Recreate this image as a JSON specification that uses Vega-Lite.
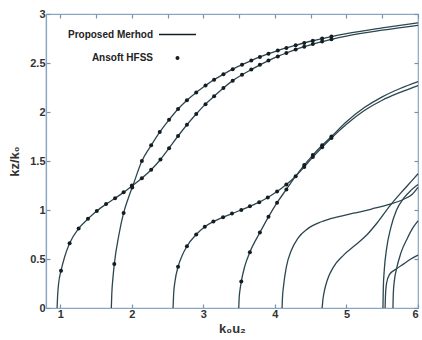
{
  "$schema": "https://vega.github.io/schema/vega-lite/v6.json",
  "width": 372,
  "height": 294,
  "autosize": "none",
  "padding": {"left": 46, "top": 14, "right": 4, "bottom": 32},
  "config": {
    "font": "Liberation Sans",
    "view": {"stroke": "#8aa6c1", "strokeWidth": 1.2},
    "axis": {
      "domainColor": "#8aa6c1",
      "domainWidth": 1.2,
      "tickColor": "#7393b5",
      "tickWidth": 1.2,
      "tickSize": -4,
      "grid": false,
      "labelFont": "Liberation Sans",
      "labelFontWeight": "bold",
      "labelFontSize": 11,
      "labelColor": "#333333",
      "labelPadding": 5,
      "titleFont": "Liberation Sans",
      "titleFontWeight": "bold",
      "titleFontSize": 13,
      "titleColor": "#333333"
    },
    "legend": {
      "labelFont": "Liberation Sans",
      "labelFontWeight": "bold",
      "labelFontSize": 10,
      "labelColor": "#222222"
    }
  },
  "datasets": {
    "model": [
      {"curve": "A", "x": 0.955, "y": 0}, {"curve": "A", "x": 0.962, "y": 0.12}, {"curve": "A", "x": 0.975, "y": 0.24}, {"curve": "A", "x": 1.01, "y": 0.38}, {"curve": "A", "x": 1.06, "y": 0.52}, {"curve": "A", "x": 1.13, "y": 0.66}, {"curve": "A", "x": 1.256, "y": 0.81}, {"curve": "A", "x": 1.387, "y": 0.91}, {"curve": "A", "x": 1.51, "y": 0.99}, {"curve": "A", "x": 1.64, "y": 1.06}, {"curve": "A", "x": 1.765, "y": 1.12}, {"curve": "A", "x": 1.885, "y": 1.18}, {"curve": "A", "x": 2.0, "y": 1.245}, {"curve": "A", "x": 2.14, "y": 1.325}, {"curve": "A", "x": 2.27, "y": 1.41}, {"curve": "A", "x": 2.4, "y": 1.515}, {"curve": "A", "x": 2.52, "y": 1.63}, {"curve": "A", "x": 2.646, "y": 1.755}, {"curve": "A", "x": 2.77, "y": 1.87}, {"curve": "A", "x": 2.9, "y": 1.98}, {"curve": "A", "x": 3.03, "y": 2.08}, {"curve": "A", "x": 3.15, "y": 2.16}, {"curve": "A", "x": 3.28, "y": 2.245}, {"curve": "A", "x": 3.41, "y": 2.32}, {"curve": "A", "x": 3.54, "y": 2.38}, {"curve": "A", "x": 3.67, "y": 2.433}, {"curve": "A", "x": 3.79, "y": 2.481}, {"curve": "A", "x": 3.91, "y": 2.525}, {"curve": "A", "x": 4.04, "y": 2.567}, {"curve": "A", "x": 4.16, "y": 2.602}, {"curve": "A", "x": 4.29, "y": 2.637}, {"curve": "A", "x": 4.41, "y": 2.666}, {"curve": "A", "x": 4.53, "y": 2.693}, {"curve": "A", "x": 4.66, "y": 2.719}, {"curve": "A", "x": 4.79, "y": 2.742}, {"curve": "A", "x": 5.0, "y": 2.775}, {"curve": "A", "x": 5.5, "y": 2.835}, {"curve": "A", "x": 6.0, "y": 2.885},
      {"curve": "B", "x": 1.713, "y": 0}, {"curve": "B", "x": 1.72, "y": 0.15}, {"curve": "B", "x": 1.735, "y": 0.3}, {"curve": "B", "x": 1.755, "y": 0.45}, {"curve": "B", "x": 1.82, "y": 0.75}, {"curve": "B", "x": 1.885, "y": 0.97}, {"curve": "B", "x": 1.95, "y": 1.12}, {"curve": "B", "x": 2.02, "y": 1.26}, {"curve": "B", "x": 2.14, "y": 1.5}, {"curve": "B", "x": 2.27, "y": 1.66}, {"curve": "B", "x": 2.39, "y": 1.795}, {"curve": "B", "x": 2.52, "y": 1.92}, {"curve": "B", "x": 2.646, "y": 2.03}, {"curve": "B", "x": 2.77, "y": 2.12}, {"curve": "B", "x": 2.9, "y": 2.2}, {"curve": "B", "x": 3.03, "y": 2.27}, {"curve": "B", "x": 3.15, "y": 2.33}, {"curve": "B", "x": 3.28, "y": 2.385}, {"curve": "B", "x": 3.41, "y": 2.437}, {"curve": "B", "x": 3.54, "y": 2.483}, {"curve": "B", "x": 3.67, "y": 2.525}, {"curve": "B", "x": 3.79, "y": 2.562}, {"curve": "B", "x": 3.91, "y": 2.595}, {"curve": "B", "x": 4.04, "y": 2.627}, {"curve": "B", "x": 4.16, "y": 2.654}, {"curve": "B", "x": 4.29, "y": 2.681}, {"curve": "B", "x": 4.41, "y": 2.705}, {"curve": "B", "x": 4.53, "y": 2.727}, {"curve": "B", "x": 4.66, "y": 2.749}, {"curve": "B", "x": 4.79, "y": 2.77}, {"curve": "B", "x": 5.0, "y": 2.8}, {"curve": "B", "x": 5.5, "y": 2.858}, {"curve": "B", "x": 6.0, "y": 2.91},
      {"curve": "C", "x": 2.576, "y": 0}, {"curve": "C", "x": 2.585, "y": 0.15}, {"curve": "C", "x": 2.605, "y": 0.28}, {"curve": "C", "x": 2.646, "y": 0.42}, {"curve": "C", "x": 2.7, "y": 0.53}, {"curve": "C", "x": 2.77, "y": 0.63}, {"curve": "C", "x": 2.9, "y": 0.75}, {"curve": "C", "x": 3.02, "y": 0.83}, {"curve": "C", "x": 3.14, "y": 0.883}, {"curve": "C", "x": 3.275, "y": 0.927}, {"curve": "C", "x": 3.4, "y": 0.964}, {"curve": "C", "x": 3.53, "y": 1.0}, {"curve": "C", "x": 3.65, "y": 1.038}, {"curve": "C", "x": 3.78, "y": 1.08}, {"curve": "C", "x": 3.9, "y": 1.128}, {"curve": "C", "x": 4.03, "y": 1.188}, {"curve": "C", "x": 4.16, "y": 1.26}, {"curve": "C", "x": 4.29, "y": 1.345}, {"curve": "C", "x": 4.41, "y": 1.44}, {"curve": "C", "x": 4.53, "y": 1.54}, {"curve": "C", "x": 4.66, "y": 1.64}, {"curve": "C", "x": 4.79, "y": 1.735}, {"curve": "C", "x": 5.0, "y": 1.875}, {"curve": "C", "x": 5.25, "y": 2.015}, {"curve": "C", "x": 5.5, "y": 2.12}, {"curve": "C", "x": 5.75, "y": 2.2}, {"curve": "C", "x": 6.0, "y": 2.27},
      {"curve": "D", "x": 3.494, "y": 0}, {"curve": "D", "x": 3.5, "y": 0.1}, {"curve": "D", "x": 3.515, "y": 0.2}, {"curve": "D", "x": 3.53, "y": 0.27}, {"curve": "D", "x": 3.58, "y": 0.43}, {"curve": "D", "x": 3.65, "y": 0.57}, {"curve": "D", "x": 3.79, "y": 0.77}, {"curve": "D", "x": 3.91, "y": 0.93}, {"curve": "D", "x": 4.03, "y": 1.075}, {"curve": "D", "x": 4.16, "y": 1.21}, {"curve": "D", "x": 4.29, "y": 1.345}, {"curve": "D", "x": 4.41, "y": 1.458}, {"curve": "D", "x": 4.53, "y": 1.56}, {"curve": "D", "x": 4.66, "y": 1.66}, {"curve": "D", "x": 4.79, "y": 1.75}, {"curve": "D", "x": 5.0, "y": 1.9}, {"curve": "D", "x": 5.25, "y": 2.045}, {"curve": "D", "x": 5.5, "y": 2.155}, {"curve": "D", "x": 5.75, "y": 2.24}, {"curve": "D", "x": 6.0, "y": 2.31},
      {"curve": "E", "x": 4.1, "y": 0}, {"curve": "E", "x": 4.105, "y": 0.1}, {"curve": "E", "x": 4.12, "y": 0.22}, {"curve": "E", "x": 4.16, "y": 0.42}, {"curve": "E", "x": 4.23, "y": 0.59}, {"curve": "E", "x": 4.32, "y": 0.71}, {"curve": "E", "x": 4.46, "y": 0.81}, {"curve": "E", "x": 4.65, "y": 0.88}, {"curve": "E", "x": 4.88, "y": 0.93}, {"curve": "E", "x": 5.12, "y": 0.97}, {"curve": "E", "x": 5.35, "y": 1.01}, {"curve": "E", "x": 5.61, "y": 1.06}, {"curve": "E", "x": 5.8, "y": 1.11}, {"curve": "E", "x": 5.92, "y": 1.16}, {"curve": "E", "x": 6.0, "y": 1.23},
      {"curve": "F", "x": 4.66, "y": 0}, {"curve": "F", "x": 4.67, "y": 0.08}, {"curve": "F", "x": 4.69, "y": 0.17}, {"curve": "F", "x": 4.73, "y": 0.28}, {"curve": "F", "x": 4.82, "y": 0.42}, {"curve": "F", "x": 4.96, "y": 0.54}, {"curve": "F", "x": 5.13, "y": 0.645}, {"curve": "F", "x": 5.29, "y": 0.75}, {"curve": "F", "x": 5.43, "y": 0.87}, {"curve": "F", "x": 5.615, "y": 1.05}, {"curve": "F", "x": 5.755, "y": 1.17}, {"curve": "F", "x": 5.94, "y": 1.32}, {"curve": "F", "x": 6.0, "y": 1.37},
      {"curve": "G", "x": 5.51, "y": 0}, {"curve": "G", "x": 5.515, "y": 0.2}, {"curve": "G", "x": 5.53, "y": 0.4}, {"curve": "G", "x": 5.56, "y": 0.6}, {"curve": "G", "x": 5.62, "y": 0.82}, {"curve": "G", "x": 5.7, "y": 1.0}, {"curve": "G", "x": 5.8, "y": 1.12}, {"curve": "G", "x": 5.9, "y": 1.2}, {"curve": "G", "x": 6.0, "y": 1.26},
      {"curve": "H", "x": 5.54, "y": 0}, {"curve": "H", "x": 5.545, "y": 0.12}, {"curve": "H", "x": 5.56, "y": 0.25}, {"curve": "H", "x": 5.6, "y": 0.34}, {"curve": "H", "x": 5.7, "y": 0.4}, {"curve": "H", "x": 5.8, "y": 0.45}, {"curve": "H", "x": 5.9, "y": 0.5}, {"curve": "H", "x": 6.0, "y": 0.54},
      {"curve": "I", "x": 5.65, "y": 0}, {"curve": "I", "x": 5.655, "y": 0.15}, {"curve": "I", "x": 5.67, "y": 0.28}, {"curve": "I", "x": 5.7, "y": 0.4}, {"curve": "I", "x": 5.76, "y": 0.56}, {"curve": "I", "x": 5.85, "y": 0.71}, {"curve": "I", "x": 5.93, "y": 0.82}, {"curve": "I", "x": 6.0, "y": 0.89}
    ],
    "hfss": [
      {"src": "Ansoft HFSS", "x": 1.01, "y": 0.38}, {"src": "Ansoft HFSS", "x": 1.13, "y": 0.66}, {"src": "Ansoft HFSS", "x": 1.256, "y": 0.81}, {"src": "Ansoft HFSS", "x": 1.387, "y": 0.91}, {"src": "Ansoft HFSS", "x": 1.51, "y": 0.99}, {"src": "Ansoft HFSS", "x": 1.64, "y": 1.06}, {"src": "Ansoft HFSS", "x": 1.765, "y": 1.12}, {"src": "Ansoft HFSS", "x": 1.885, "y": 1.18}, {"src": "Ansoft HFSS", "x": 2.0, "y": 1.25}, {"src": "Ansoft HFSS", "x": 2.14, "y": 1.325}, {"src": "Ansoft HFSS", "x": 2.27, "y": 1.41}, {"src": "Ansoft HFSS", "x": 2.4, "y": 1.515}, {"src": "Ansoft HFSS", "x": 2.52, "y": 1.63}, {"src": "Ansoft HFSS", "x": 2.646, "y": 1.755}, {"src": "Ansoft HFSS", "x": 2.77, "y": 1.87}, {"src": "Ansoft HFSS", "x": 2.9, "y": 1.98}, {"src": "Ansoft HFSS", "x": 3.03, "y": 2.08}, {"src": "Ansoft HFSS", "x": 3.15, "y": 2.16}, {"src": "Ansoft HFSS", "x": 3.28, "y": 2.245}, {"src": "Ansoft HFSS", "x": 3.41, "y": 2.32}, {"src": "Ansoft HFSS", "x": 3.54, "y": 2.38}, {"src": "Ansoft HFSS", "x": 3.67, "y": 2.433}, {"src": "Ansoft HFSS", "x": 3.79, "y": 2.481}, {"src": "Ansoft HFSS", "x": 3.91, "y": 2.525}, {"src": "Ansoft HFSS", "x": 4.04, "y": 2.567}, {"src": "Ansoft HFSS", "x": 4.16, "y": 2.602}, {"src": "Ansoft HFSS", "x": 4.29, "y": 2.637}, {"src": "Ansoft HFSS", "x": 4.41, "y": 2.666}, {"src": "Ansoft HFSS", "x": 4.53, "y": 2.693}, {"src": "Ansoft HFSS", "x": 4.66, "y": 2.719}, {"src": "Ansoft HFSS", "x": 4.79, "y": 2.742},
      {"src": "Ansoft HFSS", "x": 1.755, "y": 0.45}, {"src": "Ansoft HFSS", "x": 1.885, "y": 0.97}, {"src": "Ansoft HFSS", "x": 2.005, "y": 1.23}, {"src": "Ansoft HFSS", "x": 2.14, "y": 1.5}, {"src": "Ansoft HFSS", "x": 2.27, "y": 1.66}, {"src": "Ansoft HFSS", "x": 2.39, "y": 1.795}, {"src": "Ansoft HFSS", "x": 2.52, "y": 1.92}, {"src": "Ansoft HFSS", "x": 2.646, "y": 2.03}, {"src": "Ansoft HFSS", "x": 2.77, "y": 2.12}, {"src": "Ansoft HFSS", "x": 2.9, "y": 2.2}, {"src": "Ansoft HFSS", "x": 3.03, "y": 2.27}, {"src": "Ansoft HFSS", "x": 3.15, "y": 2.33}, {"src": "Ansoft HFSS", "x": 3.28, "y": 2.385}, {"src": "Ansoft HFSS", "x": 3.41, "y": 2.437}, {"src": "Ansoft HFSS", "x": 3.54, "y": 2.483}, {"src": "Ansoft HFSS", "x": 3.67, "y": 2.525}, {"src": "Ansoft HFSS", "x": 3.79, "y": 2.562}, {"src": "Ansoft HFSS", "x": 3.91, "y": 2.595}, {"src": "Ansoft HFSS", "x": 4.04, "y": 2.627}, {"src": "Ansoft HFSS", "x": 4.16, "y": 2.654}, {"src": "Ansoft HFSS", "x": 4.29, "y": 2.681}, {"src": "Ansoft HFSS", "x": 4.41, "y": 2.705}, {"src": "Ansoft HFSS", "x": 4.53, "y": 2.727}, {"src": "Ansoft HFSS", "x": 4.66, "y": 2.749}, {"src": "Ansoft HFSS", "x": 4.79, "y": 2.77},
      {"src": "Ansoft HFSS", "x": 2.646, "y": 0.42}, {"src": "Ansoft HFSS", "x": 2.77, "y": 0.63}, {"src": "Ansoft HFSS", "x": 2.9, "y": 0.75}, {"src": "Ansoft HFSS", "x": 3.02, "y": 0.83}, {"src": "Ansoft HFSS", "x": 3.14, "y": 0.883}, {"src": "Ansoft HFSS", "x": 3.275, "y": 0.927}, {"src": "Ansoft HFSS", "x": 3.4, "y": 0.964}, {"src": "Ansoft HFSS", "x": 3.53, "y": 1.0}, {"src": "Ansoft HFSS", "x": 3.65, "y": 1.038}, {"src": "Ansoft HFSS", "x": 3.78, "y": 1.08}, {"src": "Ansoft HFSS", "x": 3.9, "y": 1.128}, {"src": "Ansoft HFSS", "x": 4.03, "y": 1.188}, {"src": "Ansoft HFSS", "x": 4.16, "y": 1.26}, {"src": "Ansoft HFSS", "x": 4.29, "y": 1.345}, {"src": "Ansoft HFSS", "x": 4.41, "y": 1.44}, {"src": "Ansoft HFSS", "x": 4.53, "y": 1.54}, {"src": "Ansoft HFSS", "x": 4.66, "y": 1.64}, {"src": "Ansoft HFSS", "x": 4.79, "y": 1.735},
      {"src": "Ansoft HFSS", "x": 3.53, "y": 0.27}, {"src": "Ansoft HFSS", "x": 3.65, "y": 0.57}, {"src": "Ansoft HFSS", "x": 3.79, "y": 0.77}, {"src": "Ansoft HFSS", "x": 3.91, "y": 0.93}, {"src": "Ansoft HFSS", "x": 4.03, "y": 1.075}, {"src": "Ansoft HFSS", "x": 4.16, "y": 1.21}, {"src": "Ansoft HFSS", "x": 4.41, "y": 1.458}, {"src": "Ansoft HFSS", "x": 4.53, "y": 1.56}, {"src": "Ansoft HFSS", "x": 4.66, "y": 1.66}, {"src": "Ansoft HFSS", "x": 4.79, "y": 1.75}
    ]
  },
  "resolve": {"scale": {"x": "independent", "y": "independent"}, "axis": {"x": "independent", "y": "independent"}},
  "layer": [
    {
      "layer": [
        {
          "data": {"name": "model"},
          "mark": {"type": "line", "color": "#2b4650", "strokeWidth": 1.3, "interpolate": "monotone"},
          "encoding": {
            "x": {"field": "x", "type": "quantitative", "scale": {"domain": [0.8, 6], "nice": false, "zero": false},
                  "axis": {"values": [1, 1.5, 2, 2.5, 3, 3.5, 4, 4.5, 5, 5.5, 6], "format": "~g", "title": "k₀u₂", "titlePadding": 3, "labelPadding": 4}},
            "y": {"field": "y", "type": "quantitative", "scale": {"domain": [0, 3], "nice": false, "zero": false},
                  "axis": {"values": [0, 0.5, 1, 1.5, 2, 2.5, 3], "format": "~g", "title": "kz/k₀", "titlePadding": 8, "labelPadding": 5}},
            "detail": {"field": "curve", "type": "nominal"}
          }
        },
        {
          "data": {"name": "hfss"},
          "mark": {"type": "point", "filled": true, "color": "#151d20", "opacity": 1},
          "encoding": {
            "x": {"field": "x", "type": "quantitative"},
            "y": {"field": "y", "type": "quantitative"},
            "shape": {"field": "src", "type": "nominal",
                      "scale": {"domain": ["Proposed Merhod", "Ansoft HFSS"], "range": ["M-1,-0.045H1V0.045H-1Z", "circle"]},
                      "legend": {"title": null, "orient": "none", "legendX": 112, "legendY": 1,
                                 "labelAlign": "right", "labelOffset": -44, "rowPadding": 13}},
            "size": {"field": "src", "type": "nominal",
                     "scale": {"type": "ordinal", "domain": ["Proposed Merhod", "Ansoft HFSS"], "range": [1369, 16]},
                     "legend": {"title": null, "orient": "none", "legendX": 112, "legendY": 1,
                                "labelAlign": "right", "labelOffset": -44, "rowPadding": 13}}
          }
        }
      ]
    },
    {
      "data": {"name": "hfss"},
      "mark": {"type": "point", "opacity": 0},
      "encoding": {
        "x": {"field": "x", "type": "quantitative", "scale": {"domain": [0.8, 6], "nice": false, "zero": false},
              "axis": {"orient": "top", "values": [1, 1.5, 2, 2.5, 3, 3.5, 4, 4.5, 5, 5.5, 6], "labels": false, "title": null, "domain": false}},
        "y": {"field": "y", "type": "quantitative", "scale": {"domain": [0, 3], "nice": false, "zero": false},
              "axis": {"orient": "right", "values": [0, 0.5, 1, 1.5, 2, 2.5, 3], "labels": false, "title": null, "domain": false}}
      }
    }
  ]
}
